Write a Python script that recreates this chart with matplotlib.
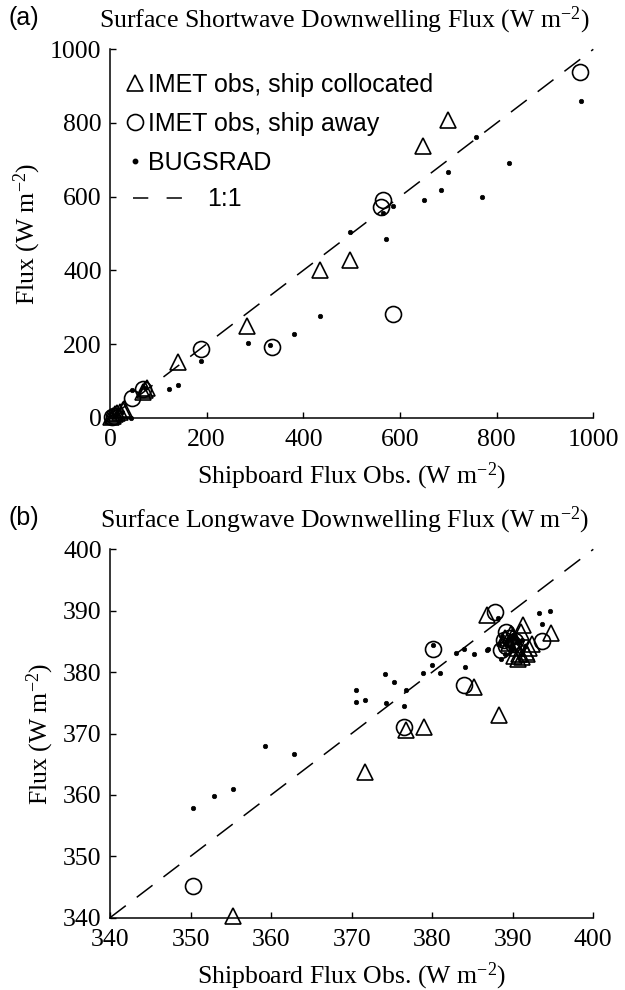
import matplotlib
matplotlib.use("Agg")
import matplotlib.pyplot as plt
from matplotlib.lines import Line2D

plt.rcParams['font.family'] = ['Liberation Serif', 'DejaVu Serif']
plt.rcParams['mathtext.fontset'] = 'custom'
plt.rcParams['mathtext.rm'] = 'Liberation Serif'
plt.rcParams['mathtext.it'] = 'Liberation Serif:italic'

# ---------------- Panel (a): shortwave ----------------
tri_a_x = [700, 648, 497, 434, 283, 141, 72, 68, 76, 2, 6, 10, 15, 20, 26, 30]
tri_a_y = [808, 737, 428, 401, 249, 152, 75, 70, 80, 1, 4, 9, 12, 16, 20, 24]
circ_a_x = [972, 564, 561, 585, 335, 188, 46, 68, 4, 8]
circ_a_y = [939, 591, 573, 281, 193, 186, 54, 77, 2, 5]
dot_a_x = [975, 757, 826, 700, 684, 650, 770, 585, 564, 497, 571, 434, 381,
           286, 331, 188, 141, 123, 46, 72, 43, 8, 15, 25]
dot_a_y = [861, 763, 692, 668, 617, 591, 600, 576, 557, 505, 485, 277, 226,
           202, 197, 154, 89, 77, 75, 80, 0, 5, 10, 15]
ticks_a = [0, 200, 400, 600, 800, 1000]

# ---------------- Panel (b): longwave ----------------
tri_b_x = [355.3, 371.7, 376.8, 379.0, 385.2, 388.3, 386.8, 391.3, 394.8,
           389.0, 389.5, 390.0, 390.5, 390.8, 391.2, 391.6, 392.0, 392.4,
           390.6, 389.8, 391.0, 390.2, 391.8]
tri_b_y = [340.2, 363.8, 370.6, 371.1, 377.6, 373.0, 389.3, 387.7, 386.3,
           385.5, 384.8, 385.8, 384.0, 383.0, 382.5, 383.3, 384.0, 384.6,
           382.2, 386.2, 386.5, 382.6, 382.9]
circ_b_x = [350.3, 376.5, 383.9, 380.1, 387.8, 389.2, 388.5, 393.6,
            389.5, 390.0, 389.2, 390.3, 388.9]
circ_b_y = [345.1, 371.0, 377.9, 383.7, 389.8, 386.6, 383.6, 385.0,
            385.5, 384.5, 384.2, 385.0, 385.3]
dot_b_x = [350.3, 352.9, 355.3, 359.3, 362.8, 370.6, 370.5, 371.7, 374.1,
           375.3, 374.3, 376.5, 376.8, 378.9, 380.0, 381.0, 380.1, 382.9,
           383.9, 384.1, 385.2, 386.9, 388.2, 393.3, 394.6, 393.6, 388.5,
           386.8, 388.3, 388.7, 389.3, 389.8, 390.2, 390.7, 391.2, 391.5,
           389.0, 390.0]
dot_b_y = [357.8, 359.8, 361.0, 367.9, 366.7, 377.1, 375.1, 375.4, 379.7,
           378.4, 374.9, 374.5, 377.1, 379.9, 381.2, 379.9, 384.4, 383.1,
           383.7, 380.9, 382.9, 383.8, 388.8, 389.7, 390.0, 387.8, 382.2,
           383.6, 384.5, 385.8, 385.0, 384.0, 385.5, 384.8, 385.2, 384.3,
           383.0, 386.0]
ticks_b = [340, 350, 360, 370, 380, 390, 400]

titles = ['Surface Shortwave Downwelling Flux (W m$^{-2}$)',
          'Surface Longwave Downwelling Flux (W m$^{-2}$)']
panel_tags = ['(a)', '(b)']
xlabel = 'Shipboard Flux Obs. (W m$^{-2}$)'
ylabel = 'Flux (W m$^{-2}$)'
legend_labels = ['IMET obs, ship collocated', 'IMET obs, ship away', 'BUGSRAD', '1:1']

fig = plt.figure(figsize=(6.25, 9.9), dpi=100)
W, H = 625, 990
axes_px = [(110, 49.3, 593.3, 417.7), (110, 549.3, 593.3, 917.7)]

FS = 18.5
LFS = 18
sans = ['Liberation Sans', 'DejaVu Sans']

panels = [
    (tri_a_x, tri_a_y, circ_a_x, circ_a_y, dot_a_x, dot_a_y, ticks_a),
    (tri_b_x, tri_b_y, circ_b_x, circ_b_y, dot_b_x, dot_b_y, ticks_b),
]

for i, (tx, ty, cx, cy, dx, dy, tk) in enumerate(panels):
    l, t, r, b = axes_px[i]
    ax = fig.add_axes([l / W, 1 - b / H, (r - l) / W, (b - t) / H])
    lo, hi = tk[0], tk[-1]
    ax.plot([lo, hi], [lo, hi], color='black', lw=1.1,
            dashes=(13, 9), clip_on=False)
    ax.plot(tx, ty, linestyle='none', marker='^', ms=12, mfc='none',
            mec='black', mew=1.2, clip_on=False)
    ax.plot(cx, cy, linestyle='none', marker='o', ms=11.5, mfc='none',
            mec='black', mew=1.2, clip_on=False)
    ax.plot(dx, dy, linestyle='none', marker='o', ms=3.2, mfc='black',
            mec='black', mew=0.5, clip_on=False)
    ax.set_xlim(lo, hi)
    ax.set_ylim(lo, hi)
    ax.set_xticks(tk)
    ax.set_yticks(tk)
    ax.spines['top'].set_visible(False)
    ax.spines['right'].set_visible(False)
    for s in ['left', 'bottom']:
        ax.spines[s].set_linewidth(1.1)
    ax.tick_params(direction='in', length=4, width=1.0, labelsize=FS)
    ax.tick_params(axis='x', pad=8)
    ax.tick_params(axis='y', pad=6)
    ax.set_xlabel(xlabel, fontsize=FS, labelpad=7)
    ax.set_ylabel(ylabel, fontsize=FS, labelpad=5)
    ax.set_title(titles[i], fontsize=FS, pad=16, x=0.485)
    fig.text(8 / W, 1 - (t - 31) / H, panel_tags[i], fontsize=LFS,
             family=sans, va='center', ha='left')

    if i == 0:
        h1 = Line2D([], [], linestyle='none', marker='^', ms=12, mfc='none',
                    mec='black', mew=1.2)
        h2 = Line2D([], [], linestyle='none', marker='o', ms=11.5, mfc='none',
                    mec='black', mew=1.2)
        h3 = Line2D([], [], linestyle='none', marker='o', ms=3.2, mfc='black',
                    mec='black')
        leg1 = ax.legend([h1, h2, h3], legend_labels[:3], loc='upper left',
                         bbox_to_anchor=(0.031, 0.935), frameon=False,
                         prop={'family': sans, 'size': LFS}, handlelength=0.8,
                         handletextpad=0.12, labelspacing=0.6, borderpad=0,
                         borderaxespad=0)
        ax.add_artist(leg1)
        h4 = Line2D([], [], color='black', lw=1.1, dashes=(10, 12))
        ax.legend([h4], legend_labels[3:], loc='upper left',
                  bbox_to_anchor=(0.048, 0.625), frameon=False,
                  prop={'family': sans, 'size': LFS}, handlelength=2.0,
                  handletextpad=0.95, borderpad=0, borderaxespad=0)

fig.savefig('out.png', dpi=100)
